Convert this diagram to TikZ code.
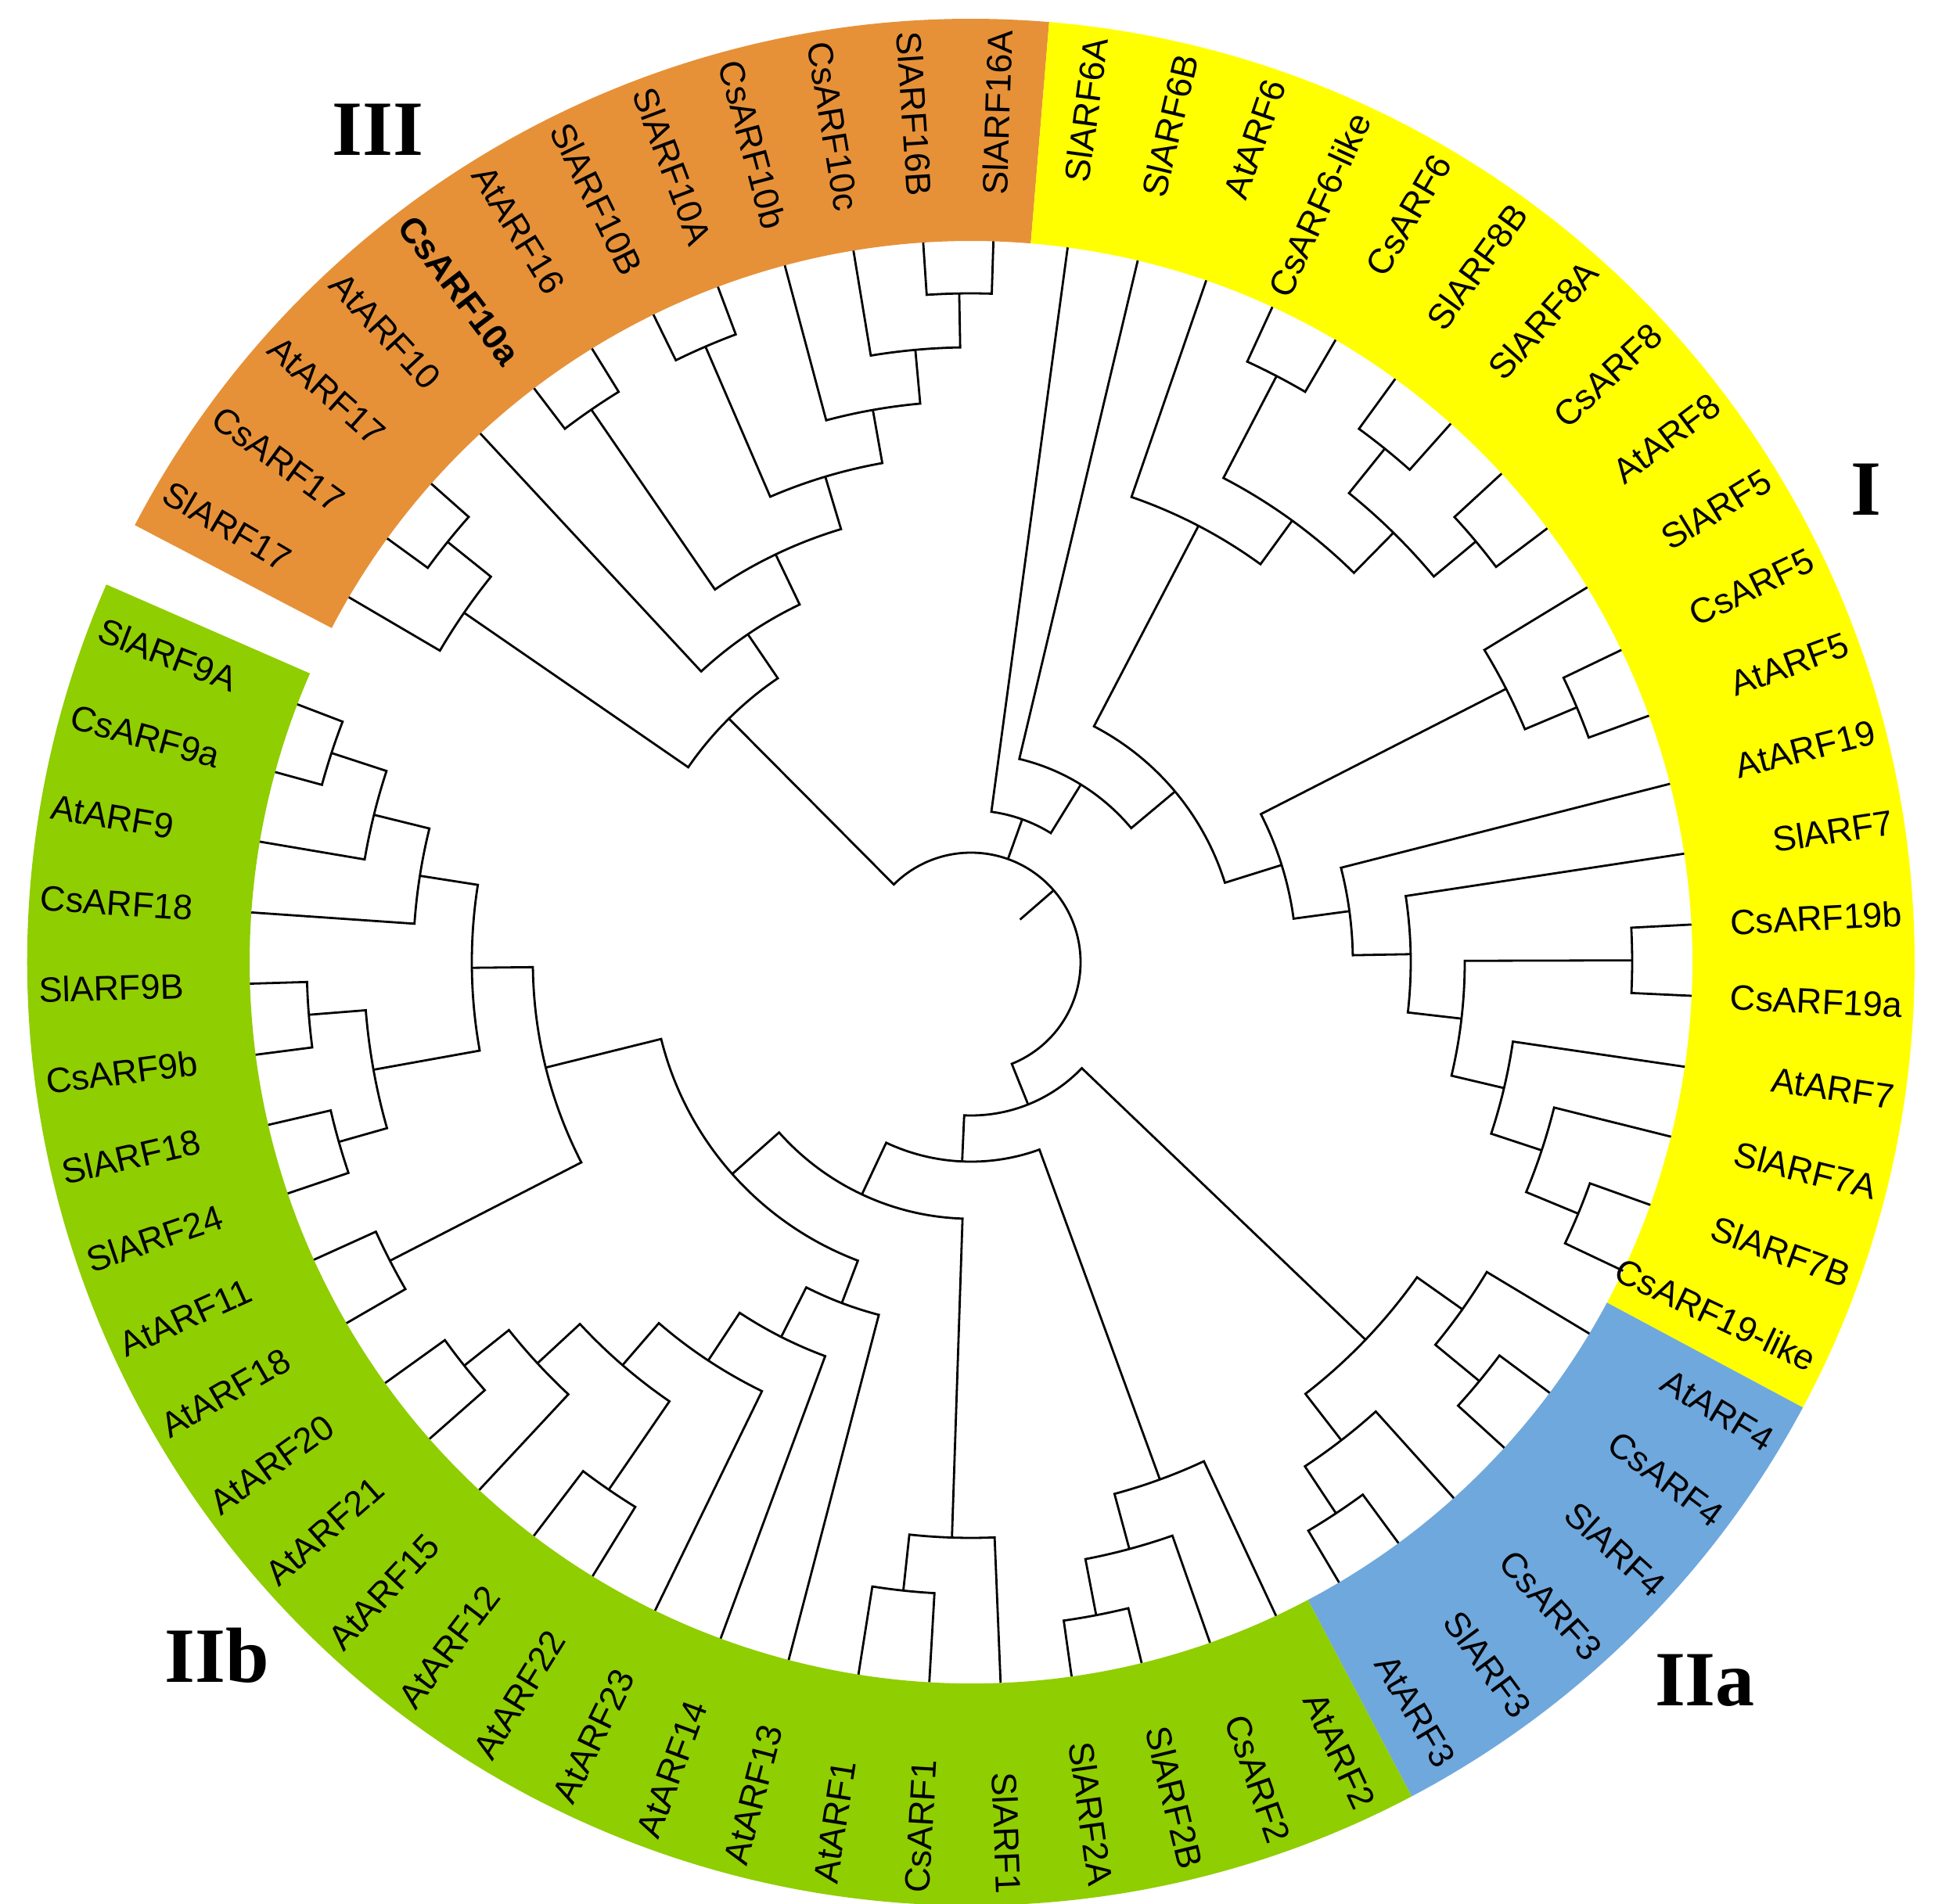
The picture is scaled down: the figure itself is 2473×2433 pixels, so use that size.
\documentclass[tikz,border=0pt]{standalone}
\usepackage{fontspec}
\setmainfont{Liberation Sans}
\newfontfamily\grpfont{Liberation Serif}
\definecolor{cyel}{HTML}{FFFF00}
\definecolor{corg}{HTML}{E69138}
\definecolor{cgrn}{HTML}{8FCE00}
\definecolor{cblu}{HTML}{6FA8DC}
\newcommand\setleaf[2]{\expandafter\xdef\csname A@#1\endcsname{#2}\expandafter\xdef\csname R@#1\endcsname{922}}
\newcommand\getA[1]{\csname A@#1\endcsname}
\newcommand\getR[1]{\csname R@#1\endcsname}
\newcommand\clade[4]{%
 \pgfmathsetmacro\tA{\getA{#3}}%
 \pgfmathsetmacro\tB{\getA{#4}}%
 \pgfmathsetmacro\tM{(\tA+\tB)/2}%
 \expandafter\xdef\csname A@#1\endcsname{\tM}%
 \expandafter\xdef\csname R@#1\endcsname{#2}%
 \draw[br] (\tA:\getR{#3}pt) -- (\tA:#2pt) arc[start angle=\tA, end angle=\tB, radius=#2pt] -- (\tB:\getR{#4}pt);
}
\newcommand\lab[3]{%
 \pgfmathsetmacro\la{mod(#1+720,360)}%
 \pgfmathparse{(\la>90 && \la<270) ? 1 : 0}%
 \ifdim\pgfmathresult pt>0.5pt
   \pgfmathsetmacro\lr{\la+180}%
   \node[lab,anchor=west,rotate=\lr] (#3) at (#1:1192pt) {#2};
 \else
   \node[lab,anchor=east,rotate=\la] (#3) at (#1:1192pt) {#2};
 \fi}
\newcommand\sector[3]{\fill[#3] (#1:922pt) arc[start angle=#1,end angle=#2,radius=922pt] -- (#2:1206pt) arc[start angle=#2,end angle=#1,radius=1206pt] -- cycle;}
\tikzset{br/.style={line width=2.8pt,line join=miter,line cap=butt},
 lab/.style={font=\fontsize{45}{50}\selectfont,inner sep=0pt},
 grp/.style={font=\grpfont\bfseries\fontsize{100}{110}\selectfont,inner sep=0pt}}
\begin{document}
\begin{tikzpicture}[x=1pt,y=1pt]
\useasboundingbox (-1241,-1203) rectangle (1232,1230);
\fill[white] (-1241,-1203) rectangle (1232,1230);
\sector{152.4}{85.25}{corg}
\sector{85.25}{-28.17}{cyel}
\sector{-28.17}{-62.16}{cblu}
\sector{-62.16}{-203.6}{cgrn}
\foreach \n [count=\i from 0] in {SlARF6A,SlARF6B,AtARF6,CsARF6-like,CsARF6,SlARF8B,SlARF8A,CsARF8,AtARF8,SlARF5,CsARF5,AtARF5,AtARF19,SlARF7,CsARF19b,CsARF19a,AtARF7,SlARF7A,SlARF7B,CsARF19-like,AtARF4,CsARF4,SlARF4,CsARF3,SlARF3,AtARF3,AtARF2,CsARF2,SlARF2B,SlARF2A,SlARF1,CsARF1,AtARF1,AtARF13,AtARF14,AtARF23,AtARF22,AtARF12,AtARF15,AtARF21,AtARF20,AtARF18,AtARF11,SlARF24,SlARF18,CsARF9b,SlARF9B,CsARF18,AtARF9,CsARF9a,SlARF9A}{%
 \pgfmathsetmacro\aa{82.3-5.665*\i}\setleaf{\n}{\aa}\lab{\aa}{\n}{l\i}}
\foreach \n/\t [count=\i from 0] in {SlARF17/SlARF17,CsARF17/CsARF17,AtARF17/AtARF17,AtARF10/AtARF10,CsARF10a/\textbf{CsARF10a},AtARF16/AtARF16,SlARF10B/SlARF10B,SlARF10A/SlARF10A,CsARF10b/CsARF10b,CsARF10c/CsARF10c,SlARF16B/SlARF16B,SlARF16A/SlARF16A}{%
 \pgfmathsetmacro\aa{149.6-5.58*\i}\setleaf{\n}{\aa}\lab{\aa}{\t}{o\i}}
% clade III
\clade{X1}{858}{CsARF17}{AtARF17}
\clade{X2}{787}{SlARF17}{X1}
\clade{X6}{857}{CsARF10a}{AtARF16}
\clade{X8}{857}{SlARF10B}{SlARF10A}
\clade{X11}{855}{SlARF16B}{SlARF16A}
\clade{X10}{786}{CsARF10c}{X11}
\clade{X9}{717}{CsARF10b}{X10}
\clade{X7}{648}{X8}{X9}
\clade{X5}{578}{X6}{X7}
\clade{X4}{507}{AtARF10}{X5}
\clade{X3}{439}{X2}{X4}
% clade I
\clade{B3}{845}{CsARF6-like}{CsARF6}
\clade{B5}{843}{SlARF8B}{SlARF8A}
\clade{B6}{840}{CsARF8}{AtARF8}
\clade{B4}{770}{B5}{B6}
\clade{B2}{698}{B3}{B4}
\clade{B1}{629}{AtARF6}{B2}
\clade{C3}{840}{CsARF5}{AtARF5}
\clade{C2}{768}{SlARF5}{C3}
\clade{C7}{845}{CsARF19b}{CsARF19a}
\clade{C10}{840}{SlARF7B}{CsARF19-like}
\clade{C9}{768}{SlARF7A}{C10}
\clade{C8}{700}{AtARF7}{C9}
\clade{C6}{631}{C7}{C8}
\clade{C5}{562}{SlARF7}{C6}
\clade{C4}{488}{AtARF19}{C5}
\clade{C1}{416}{C2}{C4}
\clade{A3}{340}{B1}{C1}
\clade{A2}{267}{SlARF6B}{A3}
\clade{A1}{194}{SlARF6A}{A2}
% clade IIa
\clade{D3}{842}{CsARF4}{SlARF4}
\clade{D2}{769}{AtARF4}{D3}
\clade{D5}{845}{SlARF3}{AtARF3}
\clade{D4}{773}{CsARF3}{D5}
\clade{D1}{698}{D2}{D4}
% clade IIb
\clade{E3}{850}{SlARF2B}{SlARF2A}
\clade{E2}{777}{CsARF2}{E3}
\clade{E1}{704}{AtARF2}{E2}
\clade{F2}{808}{CsARF1}{AtARF1}
\clade{F}{736}{SlARF1}{F2}
\clade{L4}{818}{AtARF22}{AtARF12}
\clade{L6}{828}{AtARF21}{AtARF20}
\clade{L5}{755}{AtARF15}{L6}
\clade{L3}{681}{L4}{L5}
\clade{L2}{610}{AtARF23}{L3}
\clade{L1}{537}{AtARF14}{L2}
\clade{R5}{466}{AtARF13}{L1}
\clade{Q}{835}{AtARF18}{AtARF11}
\clade{K2}{840}{SlARF24}{SlARF18}
\clade{K1}{849}{CsARF9b}{SlARF9B}
\clade{K}{776}{K2}{K1}
\clade{P}{860}{CsARF9a}{SlARF9A}
\clade{N}{786}{AtARF9}{P}
\clade{M}{713}{CsARF18}{N}
\clade{H}{638}{K}{M}
\clade{G}{560}{Q}{H}
\clade{R4}{408}{R5}{G}
\clade{R3}{328}{F}{R4}
\clade{R2}{255}{E1}{R3}
\clade{R1}{196}{D1}{R2}
% root
\pgfmathsetmacro\rA{\getA{X3}}
\pgfmathsetmacro\rB{\getA{R1}}
\pgfmathsetmacro\rC{\getA{A1}}
\draw[br] (\rA:\getR{X3}pt) -- (\rA:140pt) arc[start angle=\rA,end angle=\rB,radius=140pt] -- (\rB:\getR{R1}pt);
\draw[br] (\rC:140pt) -- (\rC:\getR{A1}pt);
\coordinate (rootstub) at (41:83pt);
\coordinate (rootarc) at (41:140pt);
\draw[br] (rootarc) -- (rootstub);
\node[grp] (gIII) at (-758,1064) {III};
\node[grp] (gI) at (1144,604) {I};
\node[grp] (gIIa) at (938,-918) {IIa};
\node[grp] (gIIb) at (-964,-886) {IIb};
\end{tikzpicture}
\end{document}
